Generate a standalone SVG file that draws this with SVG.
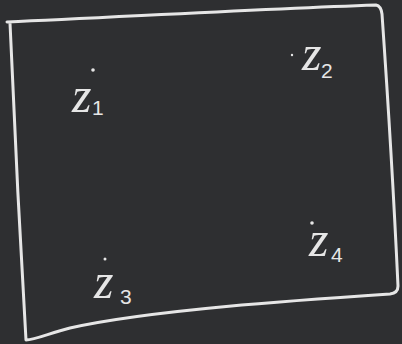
<svg xmlns="http://www.w3.org/2000/svg" width="402" height="344" viewBox="0 0 402 344">
<style>
.chalk{fill:none;stroke:#e6e6e6;stroke-width:3;stroke-linecap:round;stroke-linejoin:round}
.z{font-family:"Liberation Serif",serif;font-style:italic;font-size:50px;fill:#e6e6e6}
.s{font-family:"Liberation Sans",sans-serif;font-size:21px;fill:#e6e6e6}
.dot{fill:#e6e6e6}
</style>
<rect width="402" height="344" fill="#2e2f31"/>
<path class="chalk" d="M7,22 C120,17 260,9 376,5 Q381,6 382,14 C388,100 394,200 398,286 Q398,293 390,294 C300,300 150,310 70,328 C50,333 35,340 26,340 C20,240 14,120 10,23"/>
<g id="z1">
<circle class="dot" cx="93" cy="70" r="1.8"/>
<text class="z" x="72" y="112">z</text>
<text class="s" x="92" y="115">1</text>
</g>
<g id="z2">
<circle class="dot" cx="292" cy="55" r="1.2"/>
<text class="z" x="302" y="70">z</text>
<text class="s" x="321" y="78">2</text>
</g>
<g id="z3">
<circle class="dot" cx="105" cy="259" r="1.5"/>
<text class="z" x="94" y="298">z</text>
<text class="s" x="120" y="304">3</text>
</g>
<g id="z4">
<circle class="dot" cx="312" cy="223" r="1.8"/>
<text class="z" x="309" y="256">z</text>
<text class="s" x="331" y="262">4</text>
</g>
</svg>
